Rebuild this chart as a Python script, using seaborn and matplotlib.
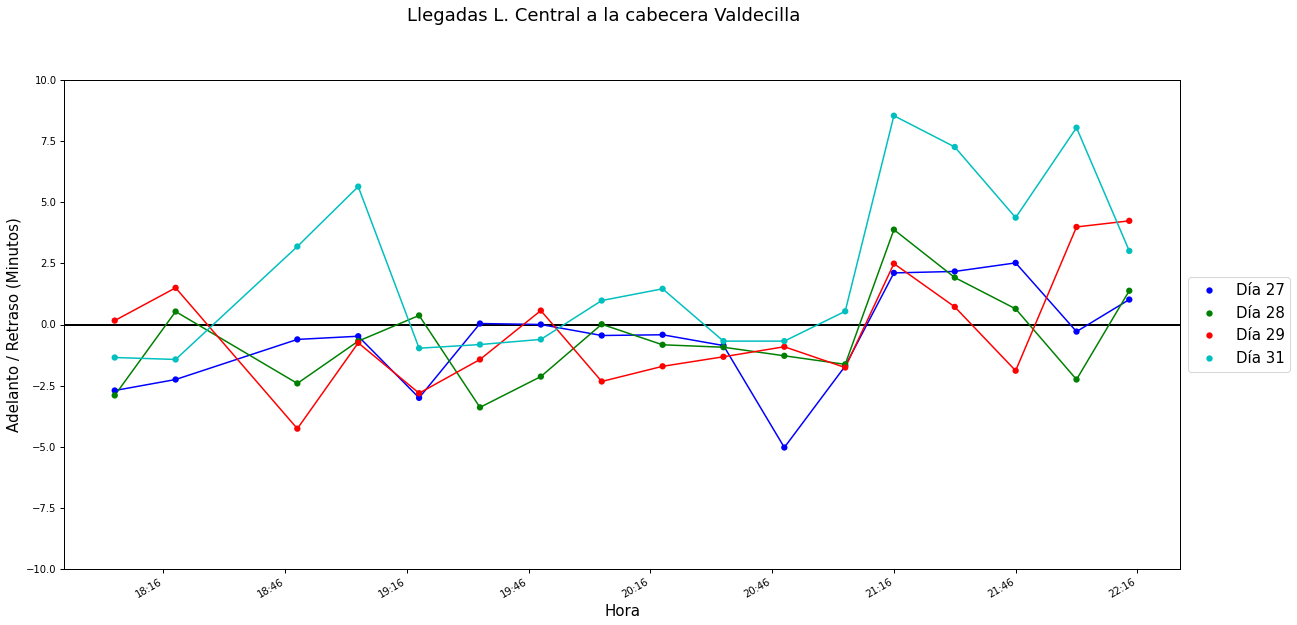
import matplotlib
matplotlib.use("Agg")
import matplotlib.pyplot as plt
import matplotlib.dates as mdates
import seaborn as sns
import pandas as pd
import numpy as np

# ---- data ----
times = ["18:04", "18:19", "18:49", "19:04", "19:19", "19:34", "19:49", "20:04", "20:19",
         "20:34", "20:49", "21:04", "21:16", "21:31", "21:46", "22:01", "22:14"]
dia27 = [-2.70, -2.25, -0.61, -0.48, -3.00, 0.04, 0.00, -0.45, -0.42,
         -0.86, -5.03, -1.70, 2.11, 2.17, 2.52, -0.29, 1.02]
dia28 = [-2.90, 0.53, -2.41, -0.68, 0.37, -3.39, -2.13, 0.01, -0.83,
         -0.93, -1.28, -1.63, 3.88, 1.92, 0.64, -2.25, 1.38]
dia29 = [0.16, 1.50, -4.26, -0.75, -2.81, -1.43, 0.57, -2.33, -1.71,
         -1.32, -0.91, -1.76, 2.49, 0.72, -1.89, 3.99, 4.24]
dia31 = [-1.35, -1.43, 3.19, 5.64, -0.97, -0.82, -0.61, 0.98, 1.46,
         -0.68, -0.68, 0.54, 8.54, 7.26, 4.37, 8.05, 3.01]
series_names = ["Día 27", "Día 28", "Día 29", "Día 31"]
series_colors = ["b", "g", "r", "c"]
tick_times = ["18:16", "18:46", "19:16", "19:46", "20:16", "20:46", "21:16", "21:46", "22:16"]

# ---- build table ----
base = "2018-01-01 "
t = pd.to_datetime([base + s for s in times])
frames = []
for name, vals in zip(series_names, [dia27, dia28, dia29, dia31]):
    frames.append(pd.DataFrame({"Hora": t, "valor": vals, "dia": name}))
df = pd.concat(frames, ignore_index=True)

sns.set_style("ticks", {"text.color": "black", "xtick.color": "black",
                        "ytick.color": "black", "axes.labelcolor": "black",
                        "axes.edgecolor": "black"})
plt.rcParams["font.family"] = ["DejaVu Sans"]
plt.rcParams["axes.unicode_minus"] = True

fig = plt.figure(figsize=(1297 / 72, 625 / 72), dpi=72)
ax = fig.add_axes([64 / 1297, 1 - 569 / 625, (1180 - 64) / 1297, (569 - 80) / 625])

palette = dict(zip(series_names, series_colors))
sns.lineplot(data=df, x="Hora", y="valor", hue="dia", palette=palette, ax=ax,
             legend=False, linewidth=1.5, sort=False)
sns.scatterplot(data=df, x="Hora", y="valor", hue="dia", palette=palette, ax=ax,
                s=40, linewidth=0, zorder=3)

ax.axhline(0, color="black", linewidth=2, zorder=1.5)
ax.set_ylim(-10, 10)
ax.set_yticks(np.arange(-10, 10.01, 2.5))

ticks = pd.to_datetime([base + s for s in tick_times])
ax.set_xticks(mdates.date2num(ticks))
ax.xaxis.set_major_formatter(mdates.DateFormatter("%H:%M"))
for lbl in ax.get_xticklabels():
    lbl.set_rotation(30)
    lbl.set_ha("right")

ax.tick_params(axis="both", labelsize=10, direction="out", length=4, width=1, color="black")
for sp in ax.spines.values():
    sp.set_visible(True)
    sp.set_color("black")
    sp.set_linewidth(1)

ax.set_xlabel("Hora", fontsize=15)
ax.set_ylabel("Adelanto / Retraso (Minutos)", fontsize=15)
fig.text(604 / 1297, 1 - 16 / 625, "Llegadas L. Central a la cabecera Valdecilla",
         fontsize=18, ha="center", va="center")

leg = ax.legend(loc="center left", bbox_to_anchor=(1.0, 0.5), fontsize=15,
                frameon=True, title=None, handlelength=2.0, handletextpad=0.8,
                borderpad=0.4, labelspacing=0.5, borderaxespad=0.5)
leg.get_frame().set_edgecolor("#cccccc")

fig.savefig("out.png", dpi=72)
